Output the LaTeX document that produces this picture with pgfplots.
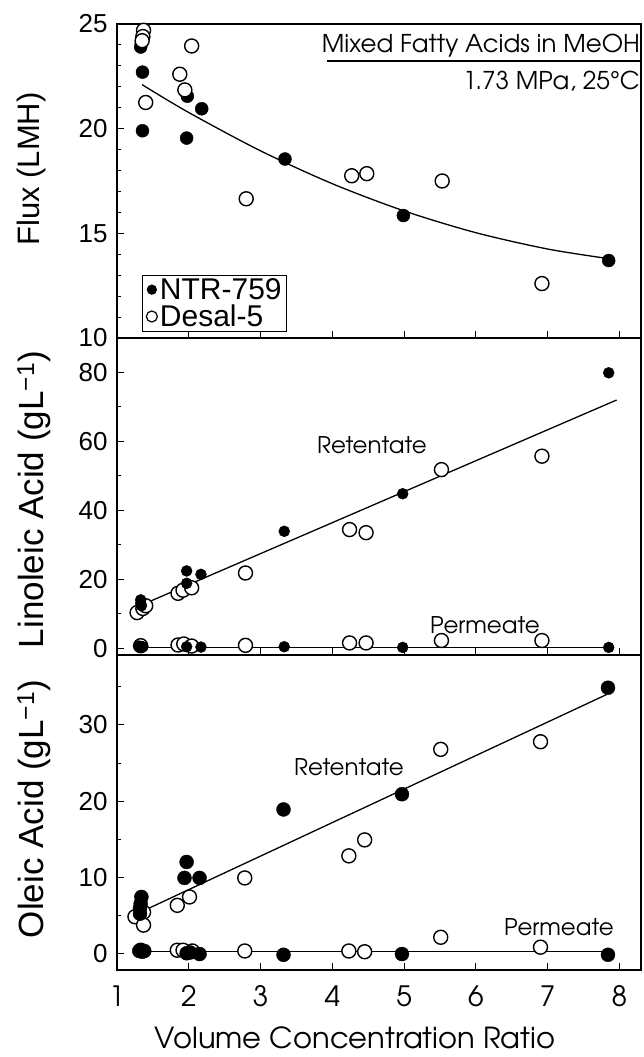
\documentclass[border=0pt]{standalone}
\usepackage{fontspec}
\setmainfont{Liberation Sans}
\newfontfamily\adv{texgyreadventor}[Extension=.otf,UprightFont=*-regular]
\usepackage{pgfplots}
\pgfplotsset{compat=1.18}

\pgfplotsset{
  panel/.style={
    scale only axis, width=524pt,
    xmin=1, xmax=8.3, xtick={1,...,8},
    tick align=inside, xtick pos=bottom, ytick pos=left,
    axis line style={line width=1.6pt},
    major tick length=7pt, minor tick length=4pt,
    every tick/.style={black, line width=1pt},
    /pgf/number format/assume math mode=true,
    yticklabel style={font=\fontsize{26}{26}\selectfont, xshift=-6pt},
    clip=false,
  },
  filled/.style={only marks, mark=*, mark size=#1, mark options={fill=black, draw=black}},
  open/.style={only marks, mark=*, mark size=7pt, mark options={fill=white, draw=black, line width=1.4pt}},
  fitline/.style={no marks, black, line width=1.3pt},
}

\begin{document}
\begin{tikzpicture}
\useasboundingbox (-117pt,-87pt) rectangle (526pt,970pt);

% ---- bottom: oleic acid
\begin{axis}[panel, at={(0pt,0pt)}, height=315pt,
  ymin=-2.2, ymax=39.2, ytick={0,10,20,30}, minor ytick={5,15,25,35},
  xticklabel style={font=\adv\fontsize{28}{28}\selectfont, yshift=-12pt},
  ylabel={Oleic Acid (gL\textsuperscript{−1})},
  ylabel style={at={(rel axis cs:-0.141,0.511)}, anchor=base, font=\fontsize{35}{35}\selectfont}]
\addplot[fitline] coordinates {(1.44,5.9) (7.82,34.0)};
\addplot[fitline] coordinates {(1.33,0.2) (7.85,0.2)};
\addplot[open] coordinates {(1.25,4.8) (1.37,5.4) (1.37,3.7) (1.84,6.3) (2.01,7.4) (2.78,9.9) (4.23,12.8) (4.45,14.9) (5.51,26.8) (6.90,27.8)};
\addplot[open] coordinates {(1.33,0.4) (1.84,0.4) (1.92,0.4) (2.05,0.3) (2.78,0.3) (4.23,0.3) (4.45,0.2) (5.51,2.1) (6.90,0.8)};
\addplot[filled=7pt] coordinates {(1.34,7.4) (1.33,6.5) (1.32,5.9) (1.32,5.2) (1.94,9.9) (1.97,12.0) (2.15,9.9) (3.32,18.9) (4.97,20.9) (7.84,34.9)};
\addplot[filled=7pt] coordinates {(1.31,0.3) (1.35,0.2) (1.38,0.3) (1.97,0.0) (2.02,0.1) (2.15,-0.1) (3.32,-0.2) (4.97,-0.1) (7.84,-0.2)};
\end{axis}

% ---- middle: linoleic acid
\begin{axis}[panel, at={(0pt,315pt)}, height=317pt,
  ymin=-2, ymax=90, ytick={0,20,40,60,80}, minor ytick={10,30,50,70},
  xticklabels={},
  ylabel={Linoleic Acid (gL\textsuperscript{−1})},
  ylabel style={at={(rel axis cs:-0.141,0.49)}, anchor=base, font=\fontsize{35}{35}\selectfont}]
\addplot[fitline] coordinates {(1.44,13.4) (7.96,72.0)};
\addplot[fitline] coordinates {(1.33,0.1) (7.85,0.1)};
\addplot[open] coordinates {(1.28,10.3) (1.36,11.5) (1.40,12.3) (1.85,15.9) (1.92,16.8) (2.04,17.5) (2.79,21.8) (4.24,34.4) (4.47,33.5) (5.52,51.8) (6.92,55.7)};
\addplot[open] coordinates {(1.33,0.7) (1.85,0.9) (1.93,1.2) (2.04,0.6) (2.79,0.8) (4.24,1.5) (4.47,1.5) (5.52,2.2) (6.92,2.2)};
\addplot[filled=5.5pt] coordinates {(1.33,14.0) (1.33,13.0) (1.34,12.3) (1.97,22.4) (1.97,18.8) (2.17,21.4) (3.33,33.9) (4.98,44.8) (7.85,79.9)};
\addplot[filled=5.5pt] coordinates {(1.30,0.6) (1.33,0.5) (1.36,0.4) (1.97,0.4) (2.17,0.3) (3.33,0.4) (4.98,0.2) (7.85,0.2)};
\end{axis}

% ---- top: flux
\begin{axis}[panel, at={(0pt,632pt)}, height=314pt,
  ymin=10, ymax=25, ytick={10,15,20,25}, minor ytick={11,12,13,14,16,17,18,19,21,22,23,24},
  xticklabels={},
  ylabel={Flux (LMH)},
  ylabel style={at={(rel axis cs:-0.147,0.538)}, anchor=base, font=\fontsize{31}{31}\selectfont},
  legend style={at={(0.048,0.02)}, anchor=south west, draw=black, line width=1.2pt,
    font=\fontsize{30}{30}\selectfont, inner xsep=3pt, inner ysep=1pt, row sep=0pt,
    cells={anchor=west}},
  legend cell align=left]
\addplot[fitline, smooth, forget plot] coordinates {(1.35,22.1) (2,20.77) (3,18.94) (4,17.37) (5,16.07) (6,15.03) (7,14.25) (7.85,13.79)};
\addplot[filled=6.5pt, legend image code/.code={\fill[black] (0.3cm,0) circle (4.5pt);}]
  coordinates {(1.33,23.9) (1.34,24.1) (1.355,22.7) (1.355,19.9) (1.97,19.55) (1.98,21.55) (2.18,20.95) (3.34,18.55) (4.99,15.85) (7.85,13.7)};
\addlegendentry{NTR-759}
\addplot[open, legend image code/.code={\draw[black, line width=1.2pt] (0.3cm,0) circle (5.5pt);}]
  coordinates {(1.37,24.7) (1.36,24.4) (1.35,24.2) (1.40,21.25) (1.875,22.6) (1.945,21.85) (2.04,23.95) (2.80,16.65) (4.27,17.75) (4.48,17.85) (5.53,17.5) (6.92,12.6)};
\addlegendentry{Desal-5}
\end{axis}

% ---- annotations
\node[anchor=base east, inner sep=0pt, font=\adv\fontsize{24.5}{24.5}\selectfont] at (523pt,917pt) {Mixed Fatty Acids in MeOH};
\draw[line width=1.2pt] (210pt,909pt) -- (525pt,909pt);
\node[anchor=base east, inner sep=0pt, font=\adv\fontsize{24.5}{24.5}\selectfont] at (523pt,880pt) {1.73 MPa, 25°C};
\node[font=\adv\fontsize{23}{23}\selectfont] at (255pt,525pt) {Retentate};
\node[font=\adv\fontsize{23}{23}\selectfont] at (368pt,345pt) {Permeate};
\node[font=\adv\fontsize{23}{23}\selectfont] at (232pt,203pt) {Retentate};
\node[font=\adv\fontsize{23}{23}\selectfont] at (442pt,43pt) {Permeate};
\node[anchor=base, font=\adv\fontsize{29}{29}\selectfont] at (238pt,-78pt) {Volume Concentration Ratio};
\end{tikzpicture}
\end{document}
